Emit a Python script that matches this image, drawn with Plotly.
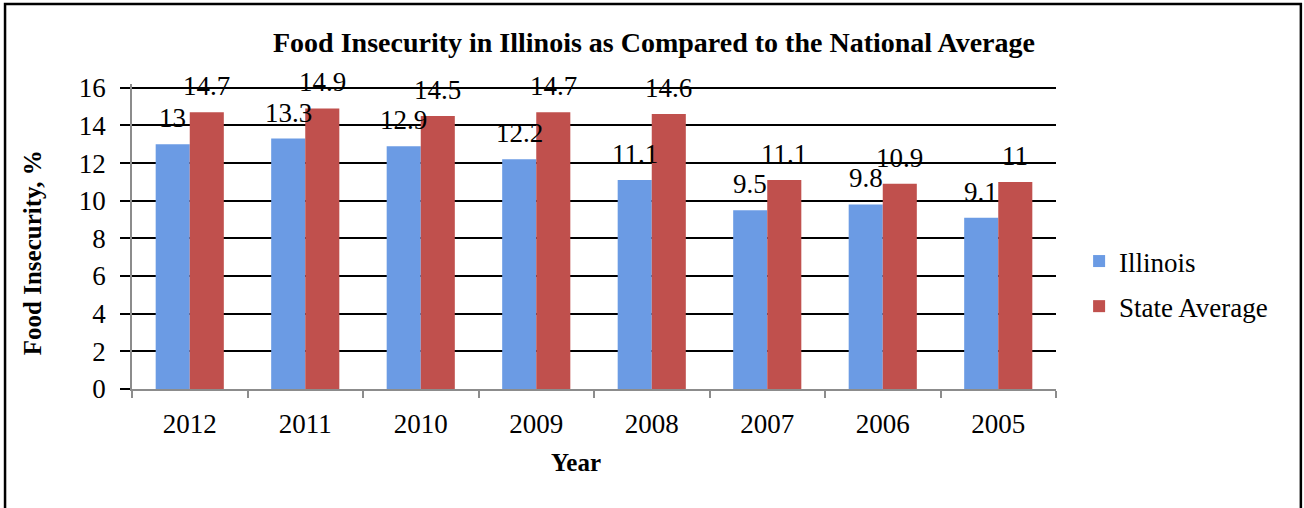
import plotly.graph_objects as go

years = ["2012", "2011", "2010", "2009", "2008", "2007", "2006", "2005"]
illinois = [13, 13.3, 12.9, 12.2, 11.1, 9.5, 9.8, 9.1]
state_avg = [14.7, 14.9, 14.5, 14.7, 14.6, 11.1, 10.9, 11]
illinois_labels = ["13", "13.3", "12.9", "12.2", "11.1", "9.5", "9.8", "9.1"]
state_labels = ["14.7", "14.9", "14.5", "14.7", "14.6", "11.1", "10.9", "11"]
yticks = [0, 2, 4, 6, 8, 10, 12, 14, 16]

FONT = "Liberation Serif"
BLUE = "#6b9be4"
RED = "#c0504d"

fig = go.Figure()
fig.add_trace(go.Bar(x=years, y=illinois, name="Illinois", marker_color=BLUE,
                     marker_line_width=0, legendgroup="a"))
fig.add_trace(go.Bar(x=years, y=state_avg, name="State Average", marker_color=RED,
                     marker_line_width=0, legendgroup="b"))

anns = []
for i, (v, t) in enumerate(zip(illinois, illinois_labels)):
    anns.append(dict(x=i, y=v, text=t, xshift=-17, yshift=9, yanchor="bottom",
                     showarrow=False, font=dict(family=FONT, size=27, color="black")))
for i, (v, t) in enumerate(zip(state_avg, state_labels)):
    anns.append(dict(x=i, y=v, text=t, xshift=17, yshift=9, yanchor="bottom",
                     showarrow=False, font=dict(family=FONT, size=27, color="black")))

# plot area: 305 px tall for 16.2 units
PH = 305.0
def py(pix):
    return (389.0 - pix) / PH

anns.append(dict(xref="paper", yref="paper", x=0.4805, y=py(462), yanchor="middle",
                 text="<b>Year</b>", showarrow=False,
                 font=dict(family=FONT, size=25, color="black")))
anns.append(dict(xref="paper", yref="paper", x=-0.108, y=py(253), xanchor="center",
                 yanchor="middle", textangle=-90, text="<b>Food Insecurity, %</b>",
                 showarrow=False, font=dict(family=FONT, size=25, color="black")))
anns.append(dict(xref="paper", yref="paper", x=0.565, y=py(43), yanchor="middle",
                 text="<b>Food Insecurity in Illinois as Compared to the National Average</b>",
                 showarrow=False, font=dict(family=FONT, size=28, color="black")))

fig.update_layout(
    width=1304, height=508,
    margin=dict(l=132, r=248, t=84, b=119, autoexpand=False),
    paper_bgcolor="white", plot_bgcolor="white",
    barmode="group", bargap=0.41, bargroupgap=0,
    font=dict(family=FONT, size=27, color="black"),
    showlegend=True,
    legend=dict(x=1.025, y=py(284), xanchor="left", yanchor="middle",
                font=dict(family=FONT, size=27, color="black"),
                tracegroupgap=7, itemwidth=30, bgcolor="rgba(0,0,0,0)"),
    annotations=anns,
    shapes=[dict(type="rect", xref="paper", yref="paper",
                 x0=-0.1374, x1=1.265, y0=-0.5, y1=py(4),
                 line=dict(color="black", width=2.5))],
)
fig.update_xaxes(type="category", range=[-0.5, 7.5], showgrid=False, showline=True,
                 linecolor="#8c8c8c", linewidth=1.5, ticks="outside",
                 tickson="boundaries", ticklen=7, tickcolor="#8c8c8c", tickwidth=1.5,
                 tickangle=0, ticklabelstandoff=10,
                 tickfont=dict(family=FONT, size=27, color="black"))
fig.update_yaxes(range=[0, 16.2], tickvals=yticks, showgrid=True, gridcolor="black",
                 gridwidth=2, showline=True, linecolor="#8c8c8c", linewidth=1.5,
                 ticks="outside", ticklen=10, tickcolor="black", tickwidth=2,
                 zeroline=False, ticklabelstandoff=9,
                 tickfont=dict(family=FONT, size=27, color="black"))

fig.write_html("out.html", config={"displayModeBar": False},
               post_script="document.body.style.margin='0px';")
